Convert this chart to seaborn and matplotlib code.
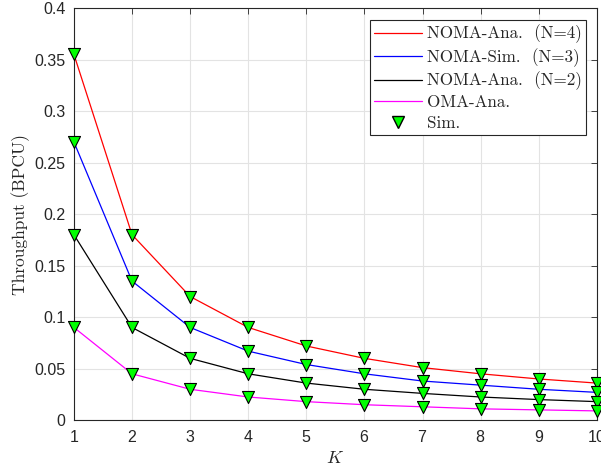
import matplotlib
matplotlib.use("Agg")
import matplotlib.pyplot as plt
import seaborn as sns
import pandas as pd
import numpy as np
from matplotlib.lines import Line2D

K = [1, 2, 3, 4, 5, 6, 7, 8, 9, 10]
noma_n4 = [0.355, 0.18, 0.12, 0.09, 0.072, 0.060, 0.051, 0.045, 0.040, 0.036]
noma_n3 = [0.270, 0.135, 0.090, 0.067, 0.054, 0.045, 0.038, 0.034, 0.030, 0.027]
noma_n2 = [0.180, 0.090, 0.060, 0.045, 0.036, 0.030, 0.026, 0.0225, 0.020, 0.018]
oma = [0.090, 0.045, 0.030, 0.0225, 0.018, 0.015, 0.013, 0.011, 0.010, 0.009]
labels = ["NOMA-Ana.  (N=4)", "NOMA-Sim.  (N=3)", "NOMA-Ana.  (N=2)", "OMA-Ana."]
colors = ["#ff0000", "#0000ff", "#000000", "#ff00ff"]

sns.set_theme(style="white")
plt.rcParams["axes.formatter.use_mathtext"] = True
plt.rcParams["mathtext.fontset"] = "cm"

fig = plt.figure(figsize=(6.01, 4.70), dpi=100)
ax = fig.add_axes([0.123, 0.106, 0.870, 0.877])

series = [noma_n4, noma_n3, noma_n2, oma]
frames = []
for lab, vals in zip(labels, series):
    frames.append(pd.DataFrame({"K": K, "T": vals, "s": lab}))
df = pd.concat(frames, ignore_index=True)

sns.lineplot(data=df, x="K", y="T", hue="s", palette=colors, linewidth=0.9,
             ax=ax, legend=False, zorder=2)
sns.scatterplot(data=df, x="K", y="T", marker="v", color="#00ff00",
                edgecolor="black", linewidth=0.8, s=75, ax=ax,
                legend=False, zorder=3, clip_on=False)

ax.set_xlim(1, 10)
ax.set_ylim(0, 0.4)
ax.set_xticks(range(1, 11))
ax.set_yticks(np.arange(0, 0.401, 0.05))
ax.set_yticklabels(["0", "0.05", "0.1", "0.15", "0.2", "0.25", "0.3", "0.35", "0.4"])
ax.grid(True, color="#e3e3e3", linewidth=0.8)
for sp in ax.spines.values():
    sp.set_visible(True)
    sp.set_color("#262626")
    sp.set_linewidth(0.8)
ax.tick_params(direction="in", length=4, width=0.6, top=True, right=True,
               labelsize=11.5, colors="#262626", pad=6)
for t in ax.get_xticklabels() + ax.get_yticklabels():
    t.set_fontfamily("Liberation Sans")
    t.set_color("#262626")

ax.set_xlabel(r"$K$", fontsize=13, labelpad=3)
ax.set_ylabel("Throughput (BPCU)", fontsize=12.5, family="cmr10", labelpad=3)

handles = [Line2D([], [], color=c, lw=0.9) for c in colors]
handles.append(Line2D([], [], color="none", marker="v", markerfacecolor="#00ff00",
                      markeredgecolor="black", markersize=9))
leg = ax.legend(handles, labels + ["Sim."], loc="upper right",
                bbox_to_anchor=(0.98, 0.97), frameon=True, fancybox=False,
                edgecolor="#262626", framealpha=1,
                prop={"family": "cmr10", "size": 12.3}, handlelength=2.8,
                handletextpad=0.3, labelspacing=0.28, borderpad=0.25,
                borderaxespad=0.0)
leg.get_frame().set_linewidth(0.8)

fig.savefig("out.png", dpi=100)
